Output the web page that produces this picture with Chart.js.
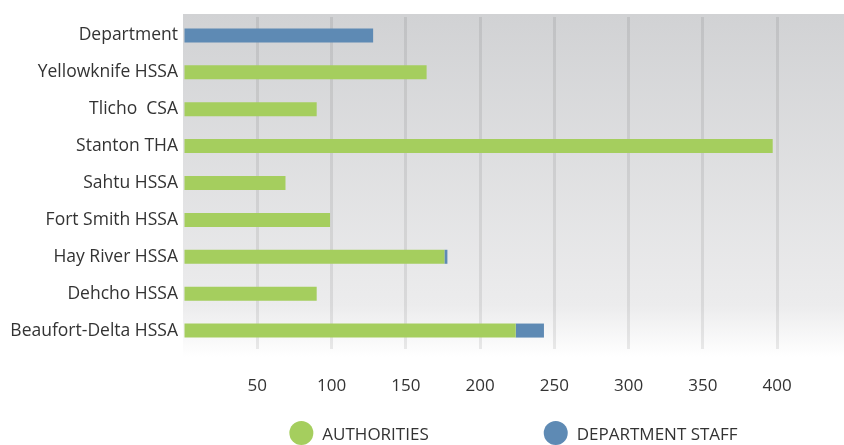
<!DOCTYPE html>
<html>
<head>
<meta charset="utf-8">
<script src="https://cdn.jsdelivr.net/npm/chart.js@4/dist/chart.umd.min.js"></script>
<style>
  html, body { margin: 0; padding: 0; background: #fff; }
  #wrap { width: 844px; height: 445px; }
</style>
</head>
<body>
<div id="wrap"><canvas id="staffChart"></canvas></div>
<script>
const categories = ['Department', 'Yellowknife HSSA', 'Tlicho  CSA', 'Stanton THA', 'Sahtu HSSA', 'Fort Smith HSSA', 'Hay River HSSA', 'Dehcho HSSA', 'Beaufort-Delta HSSA'];
const authorities = [0, 164, 90, 397, 69, 99, 176, 90, 224];
const departmentStaff = [128, 0, 0, 0, 0, 0, 2, 0, 19];
const seriesNames = ['AUTHORITIES', 'DEPARTMENT STAFF'];
const xTicks = [50, 100, 150, 200, 250, 300, 350, 400];

const green = '#a5ce5e';
const blue = '#5e8ab4';
const font = "'Open Sans', sans-serif";
const textColor = '#333333';

// grey gradient panel behind the plot
const panelBg = {
  id: 'panelBg',
  beforeDraw(chart) {
    const { ctx, chartArea } = chart;
    const top = chartArea.top - 3, bottom = chartArea.bottom + 8;
    const g = ctx.createLinearGradient(0, top, 0, bottom);
    g.addColorStop(0, '#d1d2d4');
    g.addColorStop(0.85, '#ececed');
    g.addColorStop(1, '#ffffff');
    ctx.save();
    ctx.fillStyle = g;
    ctx.fillRect(chartArea.left, top, chart.width - chartArea.left, bottom - top);
    ctx.restore();
  }
};

// round-dot legend centred under the plot area
const dotLegend = {
  id: 'dotLegend',
  afterDraw(chart) {
    const { ctx, chartArea } = chart;
    ctx.save();
    ctx.font = '17px ' + font;
    ctx.textBaseline = 'middle';
    const r = 12, gap = 9, between = 115;
    const items = chart.data.datasets.map(d => ({ label: d.label, color: d.backgroundColor, w: r * 2 + gap + ctx.measureText(d.label).width }));
    const total = items.reduce((s, it) => s + it.w, 0) + between * (items.length - 1);
    let x = (chartArea.left + chartArea.right) / 2 - total / 2;
    const y = 433;
    items.forEach(it => {
      ctx.fillStyle = it.color;
      ctx.beginPath();
      ctx.arc(x + r, y, r, 0, Math.PI * 2);
      ctx.fill();
      ctx.fillStyle = textColor;
      ctx.fillText(it.label, x + r * 2 + gap, y + 2);
      x += it.w + between;
    });
    ctx.restore();
  }
};

new Chart(document.getElementById('staffChart'), {
  type: 'bar',
  data: {
    labels: categories,
    datasets: [
      { label: seriesNames[0], data: authorities, backgroundColor: green },
      { label: seriesNames[1], data: departmentStaff, backgroundColor: blue }
    ]
  },
  options: {
    indexAxis: 'y',
    responsive: true,
    maintainAspectRatio: false,
    animation: false,
    datasets: {
      bar: { barPercentage: 0.38, categoryPercentage: 1 }
    },
    layout: { padding: { top: 17, right: 0, bottom: 50, left: 0 } },
    plugins: {
      legend: { display: false },
      tooltip: { enabled: false }
    },
    scales: {
      x: {
        stacked: true,
        min: 0,
        max: 445,
        afterBuildTicks: scale => { scale.ticks = [0].concat(xTicks).map(v => ({ value: v })); },
        afterFit: scale => { scale.height = 46; },
        border: { display: false },
        grid: {
          drawTicks: false,
          lineWidth: 3,
          color: c => c.tick && c.tick.value === 0 ? 'rgba(0,0,0,0)' : 'rgba(0,0,0,0.08)'
        },
        ticks: {
          padding: 27,
          color: textColor,
          font: { family: font, size: 17 },
          callback: v => v === 0 ? '' : v
        }
      },
      y: {
        stacked: true,
        afterFit: scale => { scale.width = 183; },
        border: { display: false },
        grid: { display: false, drawTicks: false },
        ticks: {
          padding: 5,
          color: textColor,
          font: { family: font, size: 17.5 }
        }
      }
    }
  },
  plugins: [panelBg, dotLegend]
});
</script>
</body>
</html>
